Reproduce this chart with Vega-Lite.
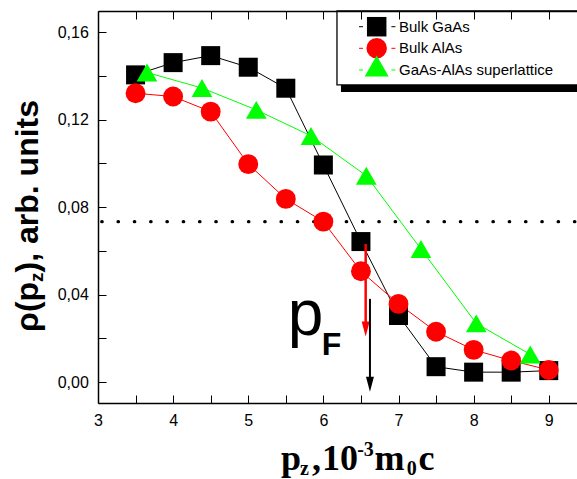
{
  "$schema": "https://vega.github.io/schema/vega-lite/v6.json",
  "width": 479,
  "height": 392,
  "autosize": {"type": "none"},
  "padding": {"left": 98, "top": 11, "right": 0, "bottom": 76},
  "background": "white",
  "config": {"view": {"stroke": null}},
  "data": {"values": [
    {"series": "Bulk GaAs", "x": 3.5, "y": 0.1405},
    {"series": "Bulk GaAs", "x": 4.0, "y": 0.1461},
    {"series": "Bulk GaAs", "x": 4.5, "y": 0.1493},
    {"series": "Bulk GaAs", "x": 5.0, "y": 0.1440},
    {"series": "Bulk GaAs", "x": 5.5, "y": 0.1344},
    {"series": "Bulk GaAs", "x": 6.0, "y": 0.0993},
    {"series": "Bulk GaAs", "x": 6.5, "y": 0.0643},
    {"series": "Bulk GaAs", "x": 7.0, "y": 0.0305},
    {"series": "Bulk GaAs", "x": 7.5, "y": 0.0071},
    {"series": "Bulk GaAs", "x": 8.0, "y": 0.0046},
    {"series": "Bulk GaAs", "x": 8.5, "y": 0.0046},
    {"series": "Bulk GaAs", "x": 9.0, "y": 0.0053},
    {"series": "Bulk AlAs", "x": 3.5, "y": 0.1321},
    {"series": "Bulk AlAs", "x": 4.0, "y": 0.1306},
    {"series": "Bulk AlAs", "x": 4.5, "y": 0.1237},
    {"series": "Bulk AlAs", "x": 5.0, "y": 0.0997},
    {"series": "Bulk AlAs", "x": 5.5, "y": 0.0838},
    {"series": "Bulk AlAs", "x": 6.0, "y": 0.0734},
    {"series": "Bulk AlAs", "x": 6.5, "y": 0.0507},
    {"series": "Bulk AlAs", "x": 7.0, "y": 0.0358},
    {"series": "Bulk AlAs", "x": 7.5, "y": 0.0231},
    {"series": "Bulk AlAs", "x": 8.0, "y": 0.0148},
    {"series": "Bulk AlAs", "x": 8.5, "y": 0.0099},
    {"series": "Bulk AlAs", "x": 9.0, "y": 0.0056},
    {"series": "GaAs-AlAs superlattice", "x": 3.652, "y": 0.1416},
    {"series": "GaAs-AlAs superlattice", "x": 4.384, "y": 0.1345},
    {"series": "GaAs-AlAs superlattice", "x": 5.107, "y": 0.1245},
    {"series": "GaAs-AlAs superlattice", "x": 5.835, "y": 0.1126},
    {"series": "GaAs-AlAs superlattice", "x": 6.571, "y": 0.0944},
    {"series": "GaAs-AlAs superlattice", "x": 7.299, "y": 0.0609},
    {"series": "GaAs-AlAs superlattice", "x": 8.035, "y": 0.0269},
    {"series": "GaAs-AlAs superlattice", "x": 8.754, "y": 0.0127}
  ]},
  "resolve": {"axis": {"x": "independent", "y": "independent"}},
  "layer": [
    {
      "data": {"values": [{}]},
      "mark": {"type": "rect", "color": "black"},
      "encoding": {
        "x": {"datum": 6.234, "type": "quantitative", "axis": null},
        "x2": {"datum": 9.6},
        "y": {"datum": 0.1327, "type": "quantitative", "axis": null},
        "y2": {"datum": 0.1359}
      }
    },
    {
      "data": {"values": [{}]},
      "mark": {"type": "rect", "filled": false, "stroke": "black", "strokeWidth": 1.3},
      "encoding": {
        "x": {"datum": 6.181, "type": "quantitative", "axis": null},
        "x2": {"datum": 9.6},
        "y": {"datum": 0.1359, "type": "quantitative", "axis": null},
        "y2": {"datum": 0.1697}
      }
    },
    {
      "data": {"values": [{}]},
      "mark": {"type": "rule", "color": "black", "strokeWidth": 3.3, "strokeDash": [0.4, 15.9], "strokeCap": "round"},
      "encoding": {
        "x": {"datum": 3.05, "type": "quantitative", "axis": null},
        "x2": {"datum": 9.376},
        "y": {"datum": 0.0734, "type": "quantitative", "axis": null}
      }
    },
    {
      "mark": {"type": "line", "strokeWidth": 1},
      "encoding": {
        "x": {"field": "x", "type": "quantitative",
          "scale": {"domain": [3, 9.376], "nice": false, "zero": false},
          "axis": {"orient": "bottom", "title": null, "grid": false,
            "values": [3, 3.5, 4, 4.5, 5, 5.5, 6, 6.5, 7, 7.5, 8, 8.5, 9],
            "labelExpr": "datum.value % 1 === 0 ? format(datum.value, 'd') : ''",
            "labelFlush": false, "labelOverlap": false,
            "labelFont": "Liberation Sans", "labelFontSize": 16, "labelColor": "black",
            "labelPadding": 17,
            "domainColor": "black", "domainWidth": 1.5,
            "tickColor": "black", "tickWidth": 1, "tickSize": -8,
            "encode": {"ticks": {"y2": {"value": {"expr": "datum.value % 1 === 0 ? -8 : -4"}}}}
          }
        },
        "y": {"field": "y", "type": "quantitative",
          "scale": {"domain": [-0.0095, 0.1697], "nice": false, "zero": false},
          "axis": {"orient": "left", "title": null, "grid": false,
            "values": [0, 0.02, 0.04, 0.06, 0.08, 0.1, 0.12, 0.14, 0.16],
            "labelExpr": "round(datum.value*100) % 4 === 0 ? replace(format(datum.value, '.2f'), '.', ',') : ''",
            "labelOverlap": false, "labelFlush": false,
            "labelFont": "Liberation Sans", "labelFontSize": 16, "labelColor": "black",
            "labelPadding": 17.7,
            "domainColor": "black", "domainWidth": 1.5,
            "tickColor": "black", "tickWidth": 1, "tickSize": -8,
            "encode": {"ticks": {"x2": {"value": {"expr": "round(datum.value*100) % 4 === 0 ? 8 : 4"}}}}
          }
        },
        "stroke": {"field": "series", "type": "nominal",
          "scale": {"domain": ["Bulk GaAs", "Bulk AlAs", "GaAs-AlAs superlattice"], "range": ["#000000", "#ff0000", "#00ff00"]},
          "legend": null},
        "order": {"field": "x", "type": "quantitative"}
      }
    },
    {
      "mark": {"type": "point", "filled": true, "opacity": 1, "strokeWidth": 0},
      "encoding": {
        "x": {"field": "x", "type": "quantitative",
          "axis": {"orient": "top", "title": null, "grid": false, "labels": false,
            "values": [3, 3.5, 4, 4.5, 5, 5.5, 6, 6.5, 7, 7.5, 8, 8.5, 9],
            "domainColor": "black", "domainWidth": 1.5,
            "tickColor": "black", "tickWidth": 1, "tickSize": -8,
            "encode": {"ticks": {"y2": {"value": {"expr": "datum.value % 1 === 0 ? 8 : 4"}}}}
          }
        },
        "y": {"field": "y", "type": "quantitative", "axis": null},
        "color": {"field": "series", "type": "nominal",
          "scale": {"domain": ["Bulk GaAs", "Bulk AlAs", "GaAs-AlAs superlattice"], "range": ["#000000", "#ff0000", "#00ff00"]},
          "legend": null},
        "shape": {"field": "series", "type": "nominal",
          "scale": {"domain": ["Bulk GaAs", "Bulk AlAs", "GaAs-AlAs superlattice"], "range": ["square", "circle", "triangle-up"]},
          "legend": null},
        "size": {"field": "series", "type": "nominal",
          "scale": {"domain": ["Bulk GaAs", "Bulk AlAs", "GaAs-AlAs superlattice"], "range": [361, 430, 576]},
          "legend": null}
      }
    },
    {
      "data": {"values": [{}]},
      "mark": {"type": "rule", "color": "black", "strokeWidth": 1, "strokeDash": [4, 28.4]},
      "encoding": {
        "x": {"datum": 6.4744, "type": "quantitative", "axis": null},
        "x2": {"datum": 6.9757},
        "y": {"datum": 0.16252, "type": "quantitative", "axis": null}
      }
    },
    {
      "data": {"values": [{}]},
      "mark": {"type": "point", "shape": "square", "filled": true, "opacity": 1, "color": "black", "size": 380, "strokeWidth": 0},
      "encoding": {
        "x": {"datum": 6.7096, "type": "quantitative", "axis": null},
        "y": {"datum": 0.16252, "type": "quantitative", "axis": null}
      }
    },
    {
      "data": {"values": [{}]},
      "mark": {"type": "text", "text": "Bulk GaAs", "font": "Liberation Sans", "fontSize": 15, "align": "left", "baseline": "middle", "color": "black"},
      "encoding": {
        "x": {"datum": 7.0064, "type": "quantitative", "axis": null},
        "y": {"datum": 0.16252, "type": "quantitative", "axis": null}
      }
    },
    {
      "data": {"values": [{}]},
      "mark": {"type": "rule", "color": "#ff0000", "strokeWidth": 1, "strokeDash": [4, 28.4]},
      "encoding": {
        "x": {"datum": 6.4744, "type": "quantitative", "axis": null},
        "x2": {"datum": 6.9757},
        "y": {"datum": 0.15265, "type": "quantitative", "axis": null}
      }
    },
    {
      "data": {"values": [{}]},
      "mark": {"type": "point", "shape": "circle", "filled": true, "opacity": 1, "color": "#ff0000", "size": 420, "strokeWidth": 0},
      "encoding": {
        "x": {"datum": 6.7096, "type": "quantitative", "axis": null},
        "y": {"datum": 0.15265, "type": "quantitative", "axis": null}
      }
    },
    {
      "data": {"values": [{}]},
      "mark": {"type": "text", "text": "Bulk AlAs", "font": "Liberation Sans", "fontSize": 15, "align": "left", "baseline": "middle", "color": "black"},
      "encoding": {
        "x": {"datum": 7.0064, "type": "quantitative", "axis": null},
        "y": {"datum": 0.15265, "type": "quantitative", "axis": null}
      }
    },
    {
      "data": {"values": [{}]},
      "mark": {"type": "rule", "color": "#00ff00", "strokeWidth": 1, "strokeDash": [4, 28.4]},
      "encoding": {
        "x": {"datum": 6.4744, "type": "quantitative", "axis": null},
        "x2": {"datum": 6.9757},
        "y": {"datum": 0.14273, "type": "quantitative", "axis": null}
      }
    },
    {
      "data": {"values": [{}]},
      "mark": {"type": "point", "shape": "triangle-up", "filled": true, "opacity": 1, "color": "#00ff00", "size": 576, "strokeWidth": 0},
      "encoding": {
        "x": {"datum": 6.7096, "type": "quantitative", "axis": null},
        "y": {"datum": 0.14456, "type": "quantitative", "axis": null}
      }
    },
    {
      "data": {"values": [{}]},
      "mark": {"type": "text", "text": "GaAs-AlAs superlattice", "font": "Liberation Sans", "fontSize": 15, "align": "left", "baseline": "middle", "color": "black"},
      "encoding": {
        "x": {"datum": 7.0064, "type": "quantitative", "axis": null},
        "y": {"datum": 0.14273, "type": "quantitative", "axis": null}
      }
    },
    {
      "data": {"values": [{}]},
      "mark": {"type": "rule", "color": "#ff0000", "strokeWidth": 2.5},
      "encoding": {
        "x": {"datum": 6.563, "type": "quantitative", "axis": null},
        "y": {"datum": 0.0632, "type": "quantitative", "axis": null},
        "y2": {"datum": 0.0243}
      }
    },
    {
      "data": {"values": [{}]},
      "mark": {"type": "point", "shape": "M-0.53,-1L0.53,-1L0,1Z", "filled": true, "opacity": 1, "color": "#ff0000", "size": 225, "strokeWidth": 0},
      "encoding": {
        "x": {"datum": 6.563, "type": "quantitative", "axis": null},
        "y": {"datum": 0.0243, "type": "quantitative", "axis": null}
      }
    },
    {
      "data": {"values": [{}]},
      "mark": {"type": "rule", "color": "black", "strokeWidth": 2},
      "encoding": {
        "x": {"datum": 6.62, "type": "quantitative", "axis": null},
        "y": {"datum": 0.0381, "type": "quantitative", "axis": null},
        "y2": {"datum": -0.0009}
      }
    },
    {
      "data": {"values": [{}]},
      "mark": {"type": "point", "shape": "M-0.53,-1L0.53,-1L0,1Z", "filled": true, "opacity": 1, "color": "black", "size": 225, "strokeWidth": 0},
      "encoding": {
        "x": {"datum": 6.62, "type": "quantitative", "axis": null},
        "y": {"datum": -0.0009, "type": "quantitative", "axis": null}
      }
    },
    {
      "data": {"values": [{}]},
      "mark": {"type": "text", "text": "p", "font": "Liberation Sans", "fontSize": 64, "align": "left", "baseline": "alphabetic", "color": "black"},
      "encoding": {
        "x": {"datum": 5.525, "type": "quantitative", "axis": null},
        "y": {"datum": 0.0216, "type": "quantitative", "axis": null}
      }
    },
    {
      "data": {"values": [{}]},
      "mark": {"type": "text", "text": "F", "font": "Liberation Sans", "fontSize": 32, "fontWeight": "bold", "align": "left", "baseline": "alphabetic", "color": "black"},
      "encoding": {
        "x": {"datum": 5.978, "type": "quantitative", "axis": null},
        "y": {"datum": 0.0124, "type": "quantitative", "axis": null}
      }
    },
    {
      "data": {"values": [{}]},
      "mark": {"type": "text", "text": "p", "font": "Liberation Serif", "fontSize": 36, "fontWeight": "bold", "align": "left", "baseline": "alphabetic", "color": "black"},
      "encoding": {
        "x": {"datum": 5.436, "type": "quantitative", "axis": null},
        "y": {"datum": -0.0401, "type": "quantitative", "axis": null}
      }
    },
    {
      "data": {"values": [{}]},
      "mark": {"type": "text", "text": "z", "font": "Liberation Serif", "fontSize": 20, "fontWeight": "bold", "align": "left", "baseline": "alphabetic", "color": "black"},
      "encoding": {
        "x": {"datum": 5.688, "type": "quantitative", "axis": null},
        "y": {"datum": -0.0424, "type": "quantitative", "axis": null}
      }
    },
    {
      "data": {"values": [{}]},
      "mark": {"type": "text", "text": ",", "font": "Liberation Serif", "fontSize": 36, "fontWeight": "bold", "align": "left", "baseline": "alphabetic", "color": "black"},
      "encoding": {
        "x": {"datum": 5.85, "type": "quantitative", "axis": null},
        "y": {"datum": -0.0401, "type": "quantitative", "axis": null}
      }
    },
    {
      "data": {"values": [{}]},
      "mark": {"type": "text", "text": "10", "font": "Liberation Serif", "fontSize": 36, "fontWeight": "bold", "align": "left", "baseline": "alphabetic", "color": "black"},
      "encoding": {
        "x": {"datum": 5.982, "type": "quantitative", "axis": null},
        "y": {"datum": -0.0401, "type": "quantitative", "axis": null}
      }
    },
    {
      "data": {"values": [{}]},
      "mark": {"type": "text", "text": "-3", "font": "Liberation Serif", "fontSize": 20, "fontWeight": "bold", "align": "left", "baseline": "alphabetic", "color": "black"},
      "encoding": {
        "x": {"datum": 6.45, "type": "quantitative", "axis": null},
        "y": {"datum": -0.0336, "type": "quantitative", "axis": null}
      }
    },
    {
      "data": {"values": [{}]},
      "mark": {"type": "text", "text": "m", "font": "Liberation Serif", "fontSize": 36, "fontWeight": "bold", "align": "left", "baseline": "alphabetic", "color": "black"},
      "encoding": {
        "x": {"datum": 6.68, "type": "quantitative", "axis": null},
        "y": {"datum": -0.0401, "type": "quantitative", "axis": null}
      }
    },
    {
      "data": {"values": [{}]},
      "mark": {"type": "text", "text": "0", "font": "Liberation Serif", "fontSize": 20, "fontWeight": "bold", "align": "left", "baseline": "alphabetic", "color": "black"},
      "encoding": {
        "x": {"datum": 7.11, "type": "quantitative", "axis": null},
        "y": {"datum": -0.0424, "type": "quantitative", "axis": null}
      }
    },
    {
      "data": {"values": [{}]},
      "mark": {"type": "text", "text": "c", "font": "Liberation Serif", "fontSize": 36, "fontWeight": "bold", "align": "left", "baseline": "alphabetic", "color": "black"},
      "encoding": {
        "x": {"datum": 7.265, "type": "quantitative", "axis": null},
        "y": {"datum": -0.0401, "type": "quantitative", "axis": null}
      }
    },
    {
      "data": {"values": [{}]},
      "mark": {"type": "text", "text": "ρ(p", "font": "Liberation Sans", "fontSize": 32, "fontWeight": "bold", "align": "left", "baseline": "alphabetic", "angle": 270, "color": "black"},
      "encoding": {
        "x": {"datum": 2.2014, "type": "quantitative", "axis": null},
        "y": {"datum": 0.023, "type": "quantitative", "axis": null}
      }
    },
    {
      "data": {"values": [{}]},
      "mark": {"type": "text", "text": "z", "font": "Liberation Sans", "fontSize": 19, "fontWeight": "bold", "align": "left", "baseline": "alphabetic", "angle": 270, "color": "black"},
      "encoding": {
        "x": {"datum": 2.268, "type": "quantitative", "axis": null},
        "y": {"datum": 0.0458, "type": "quantitative", "axis": null}
      }
    },
    {
      "data": {"values": [{}]},
      "mark": {"type": "text", "text": "), arb. units", "font": "Liberation Sans", "fontSize": 32, "fontWeight": "bold", "align": "left", "baseline": "alphabetic", "angle": 270, "color": "black"},
      "encoding": {
        "x": {"datum": 2.2014, "type": "quantitative", "axis": null},
        "y": {"datum": 0.0502, "type": "quantitative", "axis": null}
      }
    }
  ]
}
